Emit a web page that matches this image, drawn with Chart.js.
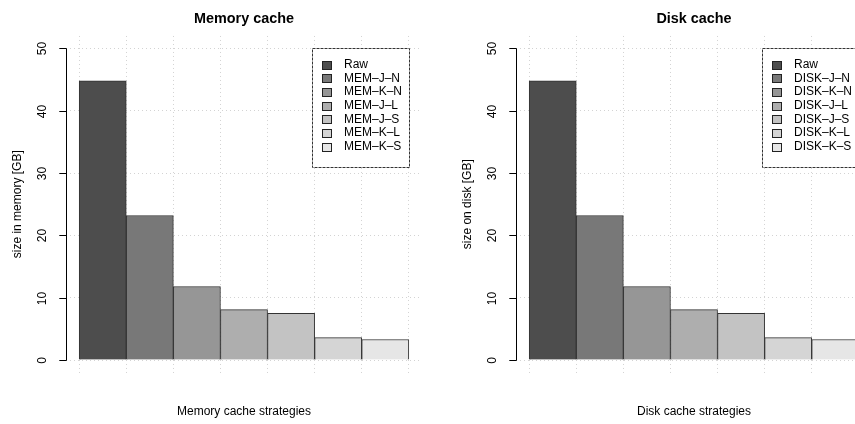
<!DOCTYPE html>
<html><head><meta charset="utf-8">
<script src="https://cdn.jsdelivr.net/npm/chart.js@4"></script>
<style>
html,body{margin:0;padding:0;background:#fff;overflow:hidden;width:855px;height:424px}
#wrap{position:relative;width:900px;height:424px;overflow:hidden}
canvas{position:absolute;top:0}
</style></head><body>
<div id="wrap">
<canvas id="c1" width="450" height="424" style="left:0px"></canvas>
<canvas id="c2" width="450" height="424" style="left:450px"></canvas>
</div>
<script>
// ---- data ----
const memCategories = ['Raw','MEM–J–N','MEM–K–N','MEM–J–L','MEM–J–S','MEM–K–L','MEM–K–S'];
const memValues = [44.8, 23.2, 11.8, 8.1, 7.5, 3.6, 3.3];
const diskCategories = ['Raw','DISK–J–N','DISK–K–N','DISK–J–L','DISK–J–S','DISK–K–L','DISK–K–S'];
const diskValues = [44.8, 23.2, 11.8, 8.1, 7.5, 3.6, 3.3];
const barColors = ['#4d4d4d','#787878','#969696','#aeaeae','#c3c3c3','#d5d5d5','#e6e6e6'];
const yTicks = [0, 10, 20, 30, 40, 50];

const FONT = "'Liberation Sans', Arial, Helvetica, sans-serif";
Chart.defaults.font.family = FONT;
Chart.defaults.color = '#000';

const rAxisLegend = {
  id: 'rAxisLegend',
  afterDraw(chart) {
    const ctx = chart.ctx;
    const ys = chart.scales.y, xs = chart.scales.x;
    const ca = chart.chartArea;
    const ax = Math.round(ca.left) + 0.5;
    const y0 = ys.getPixelForValue(yTicks[0]);
    const y1 = ys.getPixelForValue(yTicks[yTicks.length - 1]);
    ctx.save();
    ctx.strokeStyle = '#000';
    ctx.lineWidth = 1;
    ctx.beginPath();
    ctx.moveTo(ax, Math.round(y0) + 0.5);
    ctx.lineTo(ax, Math.round(y1) + 0.5);
    ctx.stroke();
    ctx.font = '12px ' + FONT;
    ctx.fillStyle = '#000';
    ctx.textAlign = 'center';
    ctx.textBaseline = 'middle';
    yTicks.forEach(v => {
      const py = Math.round(ys.getPixelForValue(v)) + 0.5;
      ctx.beginPath();
      ctx.moveTo(ax, py);
      ctx.lineTo(ax - 7.2, py);
      ctx.stroke();
      ctx.save();
      ctx.translate(ax - 24, py);
      ctx.rotate(-Math.PI / 2);
      ctx.fillText(String(v), 0, 0);
      ctx.restore();
    });
    // legend
    const cats = chart.data.labels;
    const colors = chart.data.datasets[0].backgroundColor;
    ctx.font = '12px ' + FONT;
    let maxW = 0;
    cats.forEach(c => { maxW = Math.max(maxW, ctx.measureText(c).width); });
    const right = Math.round(xs.getPixelForValue(cats.length)) + 0.5;
    const top = Math.round(ys.getPixelForValue(yTicks[yTicks.length - 1])) + 0.5;
    const w = 32 + maxW + 7;
    const rowH = 13.7;
    const h = Math.round(rowH * cats.length + 23);
    const left = Math.round(right - w) + 0.5;
    ctx.fillStyle = '#fff';
    ctx.fillRect(left, top, right - left, h);
    ctx.strokeStyle = '#333';
    ctx.setLineDash([3, 1]);
    ctx.strokeRect(left, top, right - left, h);
    ctx.setLineDash([]);
    ctx.textAlign = 'left';
    ctx.textBaseline = 'middle';
    cats.forEach((c, i) => {
      const cy = top + 16 + i * rowH;
      const sy = Math.round(cy - 4) + 0.5;
      ctx.fillStyle = colors[i];
      ctx.fillRect(left + 10, sy, 9, 8);
      ctx.strokeStyle = '#222';
      ctx.strokeRect(left + 10, sy, 9, 8);
      ctx.fillStyle = '#000';
      ctx.fillText(c, left + 31.5, cy);
    });
    ctx.restore();
  }
};

function makeChart(id, title, xTitle, yTitle, cats, vals) {
  const n = cats.length;
  const gridTicks = [];
  for (let i = 0; i <= n; i++) gridTicks.push(i);
  return new Chart(document.getElementById(id), {
    type: 'bar',
    data: {
      labels: cats,
      datasets: [{
        data: vals.map((v, i) => ({ x: i + 0.5, y: v })),
        backgroundColor: barColors,
        borderColor: '#333',
        borderWidth: 1,
        categoryPercentage: 1,
        barPercentage: 1
      }]
    },
    options: {
      responsive: false,
      animation: false,
      devicePixelRatio: 1,
      layout: { padding: { left: 0, right: 28, top: 0, bottom: 0 } },
      plugins: {
        legend: { display: false },
        tooltip: { enabled: false },
        title: {
          display: true,
          text: title,
          fullSize: false,
          font: { size: 14.4, weight: 'bold', family: FONT },
          color: '#000',
          padding: { top: 10.6, bottom: 8.1 }
        }
      },
      scales: {
        x: {
          type: 'linear',
          offset: false,
          min: -0.28,
          max: n + 0.28,
          z: 1,
          afterBuildTicks: s => { s.ticks = gridTicks.map(v => ({ value: v })); },
          afterFit: s => { s.height = 51.5; },
          ticks: { display: false },
          border: { display: false, dash: [1, 3] },
          grid: { offset: false, color: '#d3d3d3', lineWidth: 1, drawTicks: false },
          title: { display: true, text: xTitle, font: { size: 12, family: FONT }, color: '#000', padding: { top: 0, bottom: 4.8 } }
        },
        y: {
          min: -2,
          max: 52,
          z: 1,
          afterBuildTicks: s => { s.ticks = yTicks.map(v => ({ value: v })); },
          afterFit: s => { s.width = 66; },
          ticks: { display: false },
          border: { display: false, dash: [1, 3] },
          grid: { color: '#d3d3d3', lineWidth: 1, drawTicks: false },
          title: { display: true, text: yTitle, font: { size: 12, family: FONT }, color: '#000', padding: { top: 10.5, bottom: 0 } }
        }
      }
    },
    plugins: [rAxisLegend]
  });
}

makeChart('c1', 'Memory cache', 'Memory cache strategies', 'size in memory [GB]', memCategories, memValues);
makeChart('c2', 'Disk cache', 'Disk cache strategies', 'size on disk [GB]', diskCategories, diskValues);
</script>
</body></html>
